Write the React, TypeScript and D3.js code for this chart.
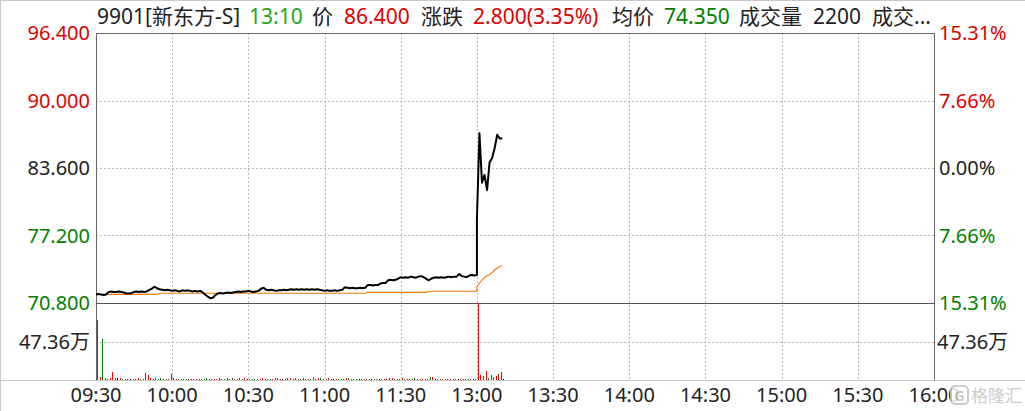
import React from 'react';
import * as d3 from 'd3';

// quote header
const headerTexts = ['9901[新东方-S]', '13:10', '价', '86.400', '涨跌', '2.800(3.35%)', '均价', '74.350', '成交量', '2200', '成交...'];
const headerKinds = ['n', 'time', 'n', 'up', 'n', 'up', 'n', 'avg', 'n', 'n', 'n'];

const prevClose = 83.6;
const priceTicks = [96.4, 90.0, 83.6, 77.2, 70.8];
const volumeMax = 94.72; // 万
const volumeTicks = [47.36];
const timeLabels = ['09:30', '10:00', '10:30', '11:00', '11:30', '13:00', '13:30', '14:00', '14:30', '15:00', '15:30', '16:00'];

// minute prices 09:30 .. 12:00
const morningPrice = [
    71.60, 71.65, 71.60, 71.55, 71.60, 71.85, 71.90, 71.85, 71.85, 71.90,
    71.85, 71.80, 71.70, 71.70, 71.75, 71.85, 71.90, 71.85, 71.90, 71.85,
    71.90, 72.05, 72.15, 72.35, 72.20, 72.10, 72.05, 72.00, 72.05, 72.00,
    71.95, 72.00, 71.95, 71.90, 72.00, 71.95, 72.00, 71.95, 71.90, 71.95,
    71.90, 71.95, 71.80, 71.60, 71.40, 71.25, 71.30, 71.55, 71.70, 71.75,
    71.70, 71.75, 71.80, 71.75, 71.80, 71.85, 71.90, 71.85, 71.90, 71.90,
    71.95, 71.90, 71.85, 71.90, 71.95, 72.15, 72.25, 72.05, 72.00, 72.05,
    72.00, 71.95, 72.00, 72.00, 72.05, 72.00, 72.05, 72.10, 72.05, 72.10,
    72.05, 72.10, 72.05, 72.10, 72.05, 72.10, 72.05, 72.10, 72.05, 72.00,
    71.95, 72.00, 71.95, 71.95, 72.00, 71.95, 72.00, 72.05, 72.30, 72.25,
    72.20, 72.25, 72.20, 72.20, 72.25, 72.20, 72.25, 72.50, 72.50, 72.45,
    72.50, 72.50, 72.65, 72.70, 72.70, 72.95, 73.00, 72.95, 73.00, 73.10,
    73.25, 73.20, 73.25, 73.20, 73.30, 73.25, 73.20, 73.30, 73.35, 73.25,
    73.10, 72.95, 73.10, 73.20, 73.25, 73.20, 73.25, 73.20, 73.25, 73.30,
    73.25, 73.30, 73.30, 73.55, 73.35, 73.30, 73.25, 73.40, 73.45, 73.40,
    73.45
];
// minute prices 13:00 .. 13:10
const afternoonPrice = [78.70, 86.90, 82.20, 82.95, 81.50, 84.15, 84.55, 85.50, 86.75, 86.40, 86.40];

// average price
const morningAvg = [
    71.62, 71.62, 71.62, 71.62, 71.62, 71.62, 71.62, 71.62, 71.62, 71.62,
    71.62, 71.62, 71.62, 71.62, 71.62, 71.62, 71.62, 71.62, 71.62, 71.62,
    71.62, 71.62, 71.62, 71.62, 71.62, 71.72, 71.72, 71.72, 71.72, 71.72,
    71.72, 71.72, 71.72, 71.72, 71.72, 71.72, 71.72, 71.72, 71.72, 71.72,
    71.72, 71.72, 71.72, 71.72, 71.72, 71.72, 71.72, 71.72, 71.72, 71.72,
    71.72, 71.72, 71.72, 71.72, 71.72, 71.72, 71.72, 71.72, 71.72, 71.72,
    71.72, 71.72, 71.72, 71.72, 71.72, 71.72, 71.72, 71.72, 71.72, 71.72,
    71.72, 71.72, 71.72, 71.72, 71.72, 71.72, 71.72, 71.72, 71.72, 71.72,
    71.72, 71.72, 71.72, 71.72, 71.72, 71.72, 71.72, 71.72, 71.72, 71.72,
    71.72, 71.72, 71.72, 71.72, 71.72, 71.72, 71.72, 71.72, 71.72, 71.72,
    71.72, 71.72, 71.72, 71.72, 71.72, 71.72, 71.72, 71.81, 71.81, 71.81,
    71.81, 71.81, 71.81, 71.81, 71.81, 71.81, 71.81, 71.81, 71.81, 71.81,
    71.81, 71.81, 71.81, 71.81, 71.81, 71.81, 71.81, 71.81, 71.81, 71.81,
    71.81, 71.91, 71.91, 71.91, 71.91, 71.91, 71.91, 71.91, 71.91, 71.91,
    71.91, 71.91, 71.91, 71.91, 71.91, 71.91, 71.91, 71.91, 71.91, 71.91,
    71.91
];
const afternoonAvg = [72.35, 72.67, 72.98, 73.22, 73.41, 73.50, 73.69, 73.93, 74.12, 74.26, 74.35];

// volume, 万股
const morningVol = [
    73.8, 3.7, 50.4, 2.5, 1.2, 2.5, 9.8, 2.5, 2.5, 2.5,
    1.2, 1.2, 0.6, 1.2, 1.2, 1.2, 2.5, 1.2, 1.2, 8.6,
    6.2, 2.5, 1.2, 2.5, 1.2, 2.5, 1.2, 1.2, 1.2, 7.4,
    2.5, 1.2, 1.2, 1.2, 1.2, 1.2, 1.2, 1.2, 1.2, 1.2,
    1.2, 1.2, 1.2, 2.5, 1.2, 1.2, 1.2, 1.2, 2.5, 1.2,
    1.2, 2.5, 1.2, 2.5, 1.2, 1.2, 2.5, 1.2, 2.5, 1.2,
    1.2, 1.2, 1.2, 1.2, 1.2, 2.5, 1.2, 1.2, 1.2, 1.2,
    2.5, 2.5, 1.2, 1.2, 1.2, 2.5, 2.5, 1.2, 2.5, 1.2,
    1.2, 2.5, 1.2, 1.2, 1.2, 3.7, 1.2, 2.5, 2.5, 1.2,
    1.2, 2.5, 1.2, 1.2, 1.2, 1.2, 1.2, 1.2, 2.5, 2.5,
    1.2, 1.2, 1.2, 1.2, 1.2, 1.2, 1.2, 1.2, 1.2, 1.2,
    1.2, 1.2, 1.2, 1.2, 1.2, 2.5, 2.5, 1.2, 1.2, 1.2,
    2.5, 1.2, 1.2, 1.2, 1.2, 2.5, 1.2, 1.2, 1.2, 1.2,
    1.2, 3.7, 3.7, 1.2, 1.2, 1.2, 1.2, 1.2, 1.2, 1.2,
    1.2, 1.2, 1.2, 1.2, 1.2, 1.2, 1.2, 1.2, 1.2, 1.2,
    1.2
];
const afternoonVol = [94.72, 6.2, 4.9, 11.0, 2.5, 6.2, 4.0, 4.9, 7.4, 9.8, 0.22];

const W = 1025;
const H = 411;
const L = 96;
const R = 934;
const TOP = 33;
const MID = 303;
const BOT = 380;

const RED = '#dd0000';
const GREEN = '#008000';
const DARK = '#222222';
const FONT = '"Noto Sans", "Noto Sans CJK SC", sans-serif';

const App: React.FC = () => {
    const x = d3.scaleLinear().domain([0, 330]).range([L, R]);
    const y = d3.scaleLinear().domain([70.8, 96.4]).range([MID, TOP]);
    const yv = d3.scaleLinear().domain([0, volumeMax]).range([BOT, MID]);

    const offset = morningPrice.length - 1; // 12:00 and 13:00 share one x
    const pricePts: [number, number][] = [
        ...morningPrice.map((p, i) => [i, p] as [number, number]),
        ...afternoonPrice.map((p, j) => [offset + j, p] as [number, number])
    ];
    const avgPts: [number, number][] = [
        ...morningAvg.map((p, i) => [i, p] as [number, number]),
        ...afternoonAvg.map((p, j) => [offset + j, p] as [number, number])
    ];
    const line = d3.line<[number, number]>().x(d => x(d[0])).y(d => y(d[1]));

    const allPrice = [...morningPrice, ...afternoonPrice];
    const bars = [
        ...morningVol.map((v, i) => ({ t: i, v })),
        ...afternoonVol.map((v, j) => ({ t: offset + j, v }))
    ].map((b, k) => {
        const prev = k === 0 ? prevClose : allPrice[k - 1];
        const cur = allPrice[k];
        const color = cur > prev ? '#ff0000' : cur < prev ? GREEN : '#000000';
        return { ...b, color };
    });

    const tickColor = (p: number) => (p > prevClose ? RED : p < prevClose ? GREEN : DARK);
    const pct = (p: number) => `${(Math.abs(p - prevClose) / prevClose * 100).toFixed(2)}%`;
    const kindColor: Record<string, string> = { n: DARK, time: '#1ca71c', up: RED, avg: GREEN };
    const headerX = [97, 249, 312, 344, 421, 473, 612, 664, 739, 813, 872];

    const gridTimes = timeLabels.map((_, i) => i * 30).filter(t => t > 0 && t < 330);

    return (
        <svg width={W} height={H} style={{ position: 'absolute', left: 0, top: 0, background: '#fff' }}
            fontFamily={FONT}>
            <rect width={W} height={H} fill="#fff" />
            <line x1={0.5} x2={0.5} y1={0} y2={H} stroke="#c8c8c8" />
            <line x1={0} x2={W} y1={0.5} y2={0.5} stroke="#c8c8c8" />

            {/* header */}
            <g fontSize={21}>
                {headerTexts.map((t, i) => (
                    <text key={i} x={headerX[i]} y={24} fill={kindColor[headerKinds[i]]}>{t}</text>
                ))}
            </g>

            {/* grid */}
            <g stroke="#b8b8b8" strokeDasharray="2,2" shapeRendering="crispEdges">
                {priceTicks.slice(1, -1).map(p => (
                    <line key={p} x1={L} x2={R} y1={Math.round(y(p)) + 0.5} y2={Math.round(y(p)) + 0.5} />
                ))}
                {volumeTicks.map(v => (
                    <line key={v} x1={L} x2={R} y1={Math.round(yv(v)) + 0.5} y2={Math.round(yv(v)) + 0.5} />
                ))}
                {gridTimes.map(t => (
                    <line key={t} x1={Math.round(x(t)) + 0.5} x2={Math.round(x(t)) + 0.5} y1={TOP} y2={BOT} />
                ))}
            </g>

            {/* frame */}
            <g stroke="#666" shapeRendering="crispEdges" fill="none">
                <line x1={L} x2={R} y1={TOP + 0.5} y2={TOP + 0.5} />
                <line x1={L + 0.5} x2={L + 0.5} y1={TOP} y2={BOT} />
                <line x1={R + 0.5} x2={R + 0.5} y1={TOP} y2={BOT} />
                <line x1={L} x2={R} y1={MID + 0.5} y2={MID + 0.5} stroke="#555" />
            </g>
            <line x1={0} x2={W} y1={BOT + 0.5} y2={BOT + 0.5} stroke="#c8c8c8" shapeRendering="crispEdges" />

            {/* volume bars */}
            <g shapeRendering="crispEdges">
                {bars.map((b, i) => {
                    const top = Math.min(yv(b.v), BOT - 1);
                    return <rect key={i} x={Math.round(x(b.t)) + 1} y={top} width={1} height={BOT - top} fill={b.color} />;
                })}
            </g>

            {/* average + price */}
            <path d={line(avgPts) || ''} fill="none" stroke="#f07800" strokeWidth={1.1} />
            <path d={line(pricePts) || ''} fill="none" stroke="#000" strokeWidth={2} strokeLinejoin="round" />

            {/* left axis */}
            <g fontSize={20} textAnchor="end">
                {priceTicks.map(p => (
                    <text key={p} x={90} y={y(p)} dy="0.36em" fill={tickColor(p)}>{p.toFixed(3)}</text>
                ))}
                {volumeTicks.map(v => (
                    <text key={v} x={90} y={yv(v)} dy="0.36em" fill={DARK}>{`${v.toFixed(2)}万`}</text>
                ))}
            </g>

            {/* right axis */}
            <g fontSize={20} textAnchor="start">
                {priceTicks.map(p => (
                    <text key={p} x={939} y={y(p)} dy="0.36em" fill={tickColor(p)}>{pct(p)}</text>
                ))}
                {volumeTicks.map(v => (
                    <text key={v} x={937} y={yv(v)} dy="0.36em" fill={DARK}>{`${v.toFixed(2)}万`}</text>
                ))}
            </g>

            {/* time axis */}
            <g fontSize={20} textAnchor="middle" fill={DARK}>
                {timeLabels.map((t, i) => (
                    <text key={t} x={x(i * 30)} y={402}>{t}</text>
                ))}
            </g>

            {/* watermark */}
            <g opacity={0.85}>
                <rect x={951} y={386} width={17} height={18} rx={4} fill="#fff" stroke="#c4c4c4" strokeWidth={2} />
                <text x={959.5} y={401} fontSize={15} fontWeight="bold" textAnchor="middle" fill="#c4c4c4">G</text>
                <text x={971} y={402} fontSize={17} fill="#c4c4c4" fontFamily='"Noto Sans CJK SC", sans-serif'>格隆汇</text>
            </g>
        </svg>
    );
};

export default App;
